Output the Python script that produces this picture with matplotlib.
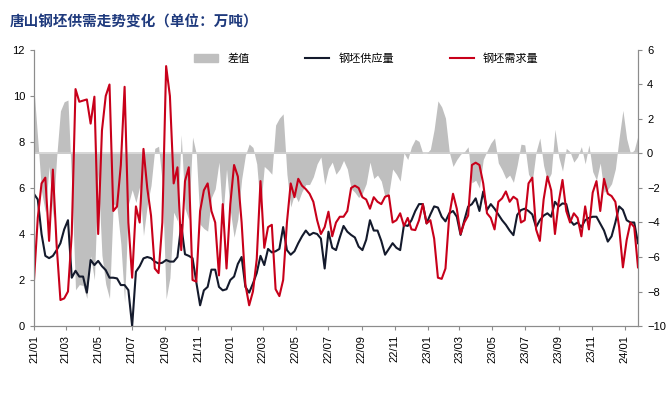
import numpy as np
import pandas as pd
import matplotlib
matplotlib.use("Agg")
import matplotlib.pyplot as plt
import matplotlib.dates as mdates
from matplotlib.patches import Patch
from matplotlib.lines import Line2D

plt.rcParams['font.family'] = ['Liberation Sans', 'Noto Sans CJK SC', 'DejaVu Sans']

# weekly data, 2021-01-01 .. 2024-01-26 (unit: 10k tons)
dates = pd.date_range("2021-01-01", periods=161, freq="7D")

supply = [
    5.74, 5.5, 4.0, 3.05, 2.95, 3.05, 3.3, 3.6, 4.2, 4.6,
    2.1, 2.4, 2.15, 2.15, 1.45, 2.87, 2.65, 2.83, 2.6, 2.43,
    2.1, 2.1, 2.07, 1.78, 1.78, 1.56, 0.0, 2.36, 2.6, 2.94,
    3.0, 2.95, 2.8, 2.72, 2.75, 2.87, 2.8, 2.8, 3.0, 4.39,
    3.12, 3.05, 2.95, 1.9, 0.9, 1.55, 1.7, 2.45, 2.45, 1.7,
    1.55, 1.6, 2.0, 2.15, 2.7, 3.0, 1.7, 1.45, 1.85, 2.3,
    3.05, 2.65, 3.35, 3.2, 3.25, 3.35, 4.3, 3.3, 3.1, 3.25,
    3.6, 3.9, 4.15, 3.95, 4.05, 4.0, 3.8, 2.5, 4.1, 3.4,
    3.3, 3.85, 4.35, 4.1, 3.96, 3.85, 3.45, 3.3, 3.75, 4.6,
    4.15, 4.15, 3.7, 3.1, 3.35, 3.6, 3.4, 3.3, 4.39, 4.35,
    4.6, 5.0, 5.3, 5.3, 4.46, 4.85, 5.2, 5.15, 4.75, 4.55,
    4.9, 5.0, 4.75, 3.96, 4.6, 5.19, 5.3, 5.55, 5.0, 5.85,
    5.04, 5.3, 5.1, 4.85, 4.6, 4.4, 4.15, 3.95, 4.83, 5.04,
    5.1, 5.0, 4.85, 4.3, 4.6, 4.8, 4.9, 4.75, 5.4, 5.2,
    5.33, 5.3, 4.6, 4.4, 4.5, 4.3, 4.6, 4.7, 4.75, 4.75,
    4.45, 4.15, 3.67, 3.9, 4.5, 5.2, 5.05, 4.6, 4.5, 4.5,
    3.6,
]

demand = [
    2.0, 4.7, 6.2, 6.45, 3.7, 6.8, 3.5, 1.13, 1.2, 1.5,
    4.0, 10.3, 9.75, 9.8, 9.85, 8.8, 9.97, 4.0, 8.5, 10.0,
    10.5, 5.0, 5.2, 7.0, 10.4, 4.5, 2.1, 5.2, 4.5, 7.7,
    6.0, 4.8, 2.5, 2.3, 4.5, 11.3, 10.0, 6.2, 6.9, 3.3,
    6.3, 6.9, 2.0, 1.93, 5.0, 5.9, 6.2, 5.0, 4.5, 2.2,
    5.3, 2.5, 5.3, 7.0, 6.5, 4.5, 1.8, 0.9, 1.5, 2.9,
    6.3, 3.4, 4.3, 4.4, 1.6, 1.3, 2.0, 4.5, 6.2, 5.6,
    6.4, 6.1, 5.95, 5.75, 5.4, 4.6, 4.0, 4.3, 4.97, 3.9,
    4.5, 4.75, 4.75, 5.0, 6.0, 6.1, 6.0, 5.6, 5.5, 5.1,
    5.6, 5.4, 5.3, 5.62, 5.68, 4.5, 4.6, 4.9, 4.35, 4.7,
    4.2, 4.17, 4.6, 5.3, 4.46, 4.6, 3.8, 2.1, 2.05, 2.5,
    4.8, 5.75, 5.1, 4.0, 4.5, 4.8, 7.0, 7.1, 7.0, 6.2,
    4.9, 4.7, 4.2, 5.4, 5.55, 5.85, 5.4, 5.62, 5.5, 4.5,
    4.6, 6.2, 6.45, 4.2, 3.7, 5.5, 6.5, 5.9, 4.0, 5.4,
    6.35, 5.0, 4.5, 4.9, 4.7, 3.9, 5.2, 4.2, 5.8, 6.3,
    5.0, 6.4, 5.75, 5.65, 5.4, 4.3, 2.55, 3.74, 4.5, 4.3,
    2.55,
]

diff = np.array(supply) - np.array(demand)

fig = plt.figure(figsize=(6.71, 3.96), dpi=100)
ax = fig.add_axes([34 / 671, 70 / 396, 604 / 671, 276 / 396])
ax2 = ax.twinx()

ax2.fill_between(dates, 0, diff, color='#bfbfbf', linewidth=0)
ax2.axhline(0, color='#cfcfcf', lw=1.2)
ax2.set_ylim(-10, 6)
ax2.set_yticks(range(-10, 7, 2))

ax.plot(dates, supply, color='#141a2c', lw=1.5)
ax.plot(dates, demand, color='#c8001a', lw=1.5)
ax.set_ylim(0, 12)
ax.set_yticks(range(0, 13, 2))
ax.set_xlim(dates[0], dates[-1])

# lines in front of the grey area
ax.set_zorder(ax2.get_zorder() + 1)
ax.patch.set_visible(False)

ax.xaxis.set_major_locator(mdates.MonthLocator(bymonth=[1, 3, 5, 7, 9, 11]))
ax.xaxis.set_major_formatter(mdates.DateFormatter('%y/%m'))
plt.setp(ax.get_xticklabels(), rotation=90)

for a in (ax, ax2):
    for s in a.spines.values():
        s.set_color('#8c8c8c')
    a.spines['top'].set_visible(False)
    a.tick_params(colors='#8c8c8c', labelcolor='black', labelsize=8, length=3)

handles = [Patch(color='#bfbfbf'),
           Line2D([], [], color='#141a2c', lw=1.5),
           Line2D([], [], color='#c8001a', lw=1.5)]
ax.legend(handles, ['差值', '钢坯供应量', '钢坯需求量'], ncol=3, frameon=False,
          loc='center', bbox_to_anchor=(0.55, 0.97),
          handlelength=2.2, columnspacing=5, prop={'family': ['Noto Sans CJK SC'], 'size': 8})

fig.text(10 / 671, 1 - 22 / 396, '唐山钢坯供需走势变化（单位：万吨）', fontsize=10.5,
         fontweight='bold', color='#1f3a7d', va='center', family=['Noto Sans CJK SC'])

fig.savefig('out.png', dpi=100)
